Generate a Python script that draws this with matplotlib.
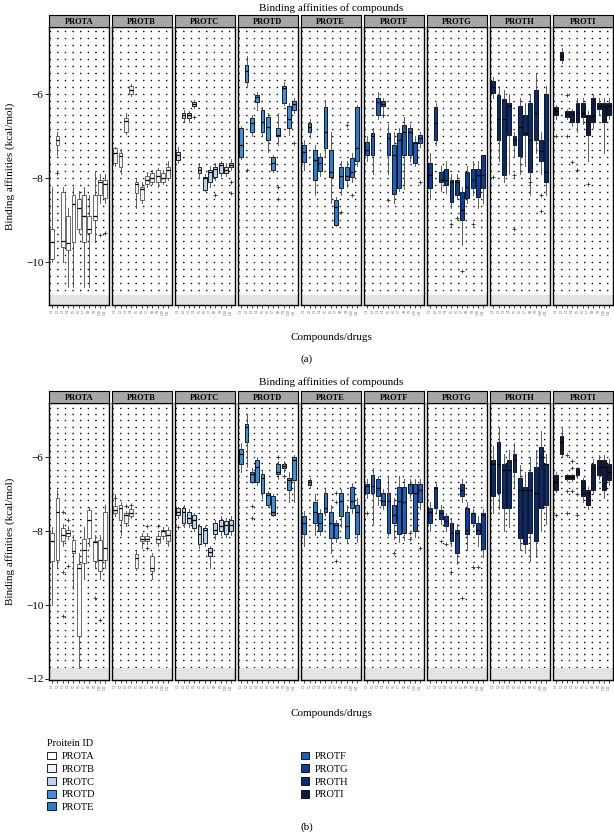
import numpy as np
import matplotlib
matplotlib.use('Agg')
import matplotlib.pyplot as plt
from matplotlib.patches import Patch

plt.rcParams['font.family'] = ['Liberation Serif', 'DejaVu Serif']

W, H = 614, 832

proteins = ['PROTA', 'PROTB', 'PROTC', 'PROTD', 'PROTE', 'PROTF', 'PROTG', 'PROTH', 'PROTI']
colors = ['#ffffff', '#eef3fa', '#b8d3ee', '#3d8fe0', '#2b7bd3', '#1d5fbf', '#0b3d9c', '#0a2a70', '#0b1c45']
# compound names are not legible in the reference
compounds = ['C1', 'C2', 'C3', 'C4', 'C5', 'C6', 'C7', 'C8', 'C9', 'C10', 'C11']

# ---- panel (a) ----
a_med = [
    [-9.52, -7.10, -9.50, -9.55, -8.62, -8.70, -8.90, -9.20, -8.90, -8.10, -8.14],
    [-7.40, -7.48, -6.65, -5.90, -8.15, -8.25, -8.05, -8.00, -7.95, -8.00, -7.80],
    [-7.45, -6.50, -6.50, -6.24, -7.80, -8.00, -7.85, -7.78, -7.68, -7.80, -7.68],
    [-7.21, -5.45, -6.69, -6.06, -6.67, -6.79, -7.65, -6.98, -5.86, -6.60, -6.24],
    [-7.38, -6.77, -7.57, -7.65, -6.90, -7.86, -8.69, -7.95, -7.95, -7.86, -7.29],
    [-7.33, -7.00, -6.18, -6.24, -7.05, -7.45, -7.10, -6.90, -6.90, -7.17, -7.05],
    [-7.93, -6.69, -8.05, -8.05, -8.10, -8.10, -8.76, -8.20, -8.05, -7.93, -7.93],
    [-5.83, -6.60, -6.60, -6.29, -7.10, -6.79, -6.93, -7.10, -6.45, -7.35, -7.86],
    [-6.40, -5.10, -6.48, -6.48, -6.45, -6.45, -6.52, -6.52, -6.29, -6.29, -6.29],
]
a_q1 = [
    [-9.93, -7.20, -9.63, -9.70, -9.52, -9.20, -9.52, -9.30, -9.00, -8.40, -8.48],
    [-7.64, -7.74, -6.90, -6.00, -8.35, -8.52, -8.15, -8.10, -8.10, -8.10, -8.00],
    [-7.57, -6.57, -6.57, -6.29, -7.88, -8.29, -8.10, -7.98, -7.88, -7.88, -7.73],
    [-7.50, -5.71, -6.90, -6.19, -6.90, -7.10, -7.81, -7.00, -6.20, -6.81, -6.38],
    [-7.62, -6.90, -8.05, -7.83, -7.29, -7.98, -9.12, -8.24, -8.05, -7.98, -7.60],
    [-7.45, -7.45, -6.50, -6.29, -7.45, -8.37, -8.24, -7.45, -7.45, -7.64, -7.17],
    [-8.24, -7.10, -8.10, -8.17, -8.57, -8.40, -9.00, -8.48, -8.24, -8.44, -8.24],
    [-5.98, -7.10, -7.93, -6.98, -7.20, -7.48, -6.98, -7.86, -7.10, -7.60, -8.10],
    [-6.50, -5.19, -6.55, -6.67, -6.67, -6.55, -6.98, -6.67, -6.36, -6.67, -6.50],
]
a_q3 = [
    [-9.22, -7.00, -8.33, -8.90, -8.40, -8.50, -8.40, -8.90, -8.40, -8.05, -8.05],
    [-7.29, -7.40, -6.57, -5.80, -8.10, -8.21, -7.95, -7.88, -7.81, -7.88, -7.73],
    [-7.38, -6.45, -6.45, -6.19, -7.73, -7.98, -7.81, -7.73, -7.65, -7.73, -7.64],
    [-6.81, -5.31, -6.57, -6.02, -6.38, -6.55, -7.50, -6.81, -5.80, -6.29, -6.17],
    [-7.21, -6.69, -7.33, -7.50, -6.31, -7.33, -8.52, -7.73, -7.73, -7.53, -6.31],
    [-7.13, -6.93, -6.10, -6.17, -6.93, -7.21, -6.93, -6.74, -6.81, -7.13, -6.98],
    [-7.64, -6.31, -7.86, -7.77, -8.05, -8.05, -8.33, -7.86, -7.77, -7.77, -7.45],
    [-5.69, -6.02, -6.12, -6.20, -7.00, -6.29, -6.50, -6.20, -5.90, -7.10, -6.00],
    [-6.31, -5.00, -6.40, -6.40, -6.20, -6.20, -6.50, -6.10, -6.20, -6.20, -6.20],
]
a_lo = [
    [-10.0, -7.45, -10.0, -10.6, -10.6, -9.30, -10.6, -10.6, -9.52, -8.60, -8.60],
    [-7.70, -7.90, -6.95, -6.05, -8.70, -8.60, -8.20, -8.15, -8.20, -8.15, -8.05],
    [-7.64, -6.67, -6.67, -6.32, -8.00, -8.30, -8.20, -8.05, -7.95, -7.95, -7.80],
    [-7.55, -5.80, -7.00, -6.38, -7.00, -7.38, -7.85, -7.20, -6.25, -6.98, -6.45],
    [-7.80, -7.05, -8.40, -7.95, -7.50, -8.60, -9.15, -8.40, -8.20, -8.10, -7.70],
    [-7.60, -7.90, -6.60, -6.55, -7.90, -8.60, -8.30, -8.25, -7.60, -7.70, -7.25],
    [-8.50, -7.20, -8.30, -8.35, -8.70, -8.50, -9.60, -8.60, -8.40, -8.70, -8.60],
    [-6.10, -7.60, -8.10, -7.90, -7.50, -7.90, -7.70, -8.40, -7.40, -7.90, -8.40],
    [-6.60, -5.25, -6.60, -6.75, -6.90, -6.70, -7.60, -6.80, -6.50, -7.40, -6.60],
]
a_hi = [
    [-8.20, -6.90, -8.20, -8.70, -8.20, -8.30, -8.20, -8.40, -7.85, -7.90, -7.90],
    [-7.25, -7.30, -6.45, -5.75, -8.00, -8.10, -7.85, -7.80, -7.75, -7.80, -7.60],
    [-7.25, -6.38, -6.40, -6.15, -7.65, -7.90, -7.70, -7.65, -7.60, -7.65, -7.55],
    [-6.75, -5.10, -6.50, -5.95, -6.30, -6.45, -7.45, -6.45, -5.70, -6.20, -6.10],
    [-7.10, -6.60, -7.20, -7.40, -6.14, -6.90, -8.45, -7.60, -7.60, -7.40, -6.25],
    [-7.00, -6.80, -5.95, -6.10, -6.70, -6.90, -6.80, -6.55, -6.70, -7.00, -6.90],
    [-7.40, -6.20, -7.70, -7.60, -7.90, -7.90, -8.20, -7.70, -7.60, -7.60, -7.45],
    [-5.60, -5.80, -5.90, -6.00, -6.90, -6.10, -6.20, -6.00, -5.50, -6.90, -5.80],
    [-6.25, -4.90, -6.35, -6.35, -6.10, -6.10, -6.40, -6.00, -6.10, -6.10, -6.10],
]
# outliers: (compound number, value)
a_out = [
    [(2, -7.88), (10, -9.35), (11, -9.30)],
    [],
    [(4, -6.55), (8, -8.40), (11, -8.36), (11, -8.09)],
    [(2, -7.81), (8, -8.50), (8, -8.20), (11, -7.17)],
    [(9, -6.74), (8, -8.80), (10, -8.40)],
    [(4, -6.50), (5, -8.52), (11, -8.10)],
    [(5, -9.10), (6, -8.96), (7, -10.2), (9, -9.10)],
    [(1, -7.98), (5, -9.20), (5, -7.93), (8, -8.10), (10, -8.40), (10, -8.77)],
    [(1, -7.00), (3, -6.02), (3, -7.00), (4, -7.62), (5, -7.80), (7, -8.15)],
]

# ---- panel (b) ----
b_med = [
    [-8.27, -7.47, -8.10, -8.05, -8.54, -9.00, -8.50, -7.69, -8.30, -8.77, -8.45],
    [-7.42, -7.38, -7.55, -7.50, -8.72, -8.20, -8.20, -9.00, -8.22, -8.00, -8.10],
    [-7.47, -7.47, -7.65, -7.69, -8.09, -7.96, -8.56, -7.96, -7.87, -7.82, -7.82],
    [-5.90, -5.19, -6.44, -6.26, -6.57, -7.01, -7.47, -6.40, -6.24, -6.62, -6.08],
    [-7.78, -6.66, -7.49, -7.78, -7.38, -7.78, -7.82, -7.17, -7.87, -7.17, -7.49],
    [-6.78, -6.78, -6.84, -7.17, -7.17, -7.56, -7.17, -7.22, -6.71, -6.97, -6.88],
    [-7.47, -6.84, -7.51, -7.73, -8.05, -8.05, -6.88, -7.96, -7.51, -7.96, -7.56],
    [-6.17, -6.17, -6.35, -6.35, -6.08, -6.88, -6.88, -6.88, -6.97, -5.99, -6.17],
    [-6.66, -5.59, -6.53, -6.53, -6.39, -6.84, -6.97, -6.30, -6.26, -6.26, -6.39],
]
b_q1 = [
    [-8.80, -8.77, -8.27, -8.13, -8.59, -10.85, -8.85, -8.18, -8.80, -9.08, -8.77],
    [-7.51, -7.69, -7.78, -7.60, -8.99, -8.27, -8.27, -9.08, -8.32, -8.14, -8.27],
    [-7.56, -7.78, -7.78, -7.91, -8.36, -8.31, -8.67, -8.09, -8.00, -8.09, -8.00],
    [-6.17, -5.59, -6.66, -6.66, -6.97, -7.29, -7.55, -6.44, -6.30, -6.88, -6.62],
    [-8.09, -6.75, -7.78, -8.00, -7.49, -8.18, -8.18, -7.60, -8.18, -7.38, -8.09],
    [-6.97, -6.97, -7.06, -7.29, -8.05, -7.78, -8.09, -8.05, -6.97, -8.00, -7.20],
    [-7.78, -7.38, -7.67, -7.87, -8.27, -8.58, -7.06, -8.09, -7.78, -8.09, -8.49],
    [-7.06, -6.97, -7.38, -7.38, -6.39, -8.18, -8.36, -8.05, -8.27, -7.38, -7.29],
    [-6.88, -5.90, -6.60, -6.60, -6.48, -7.06, -7.29, -6.88, -6.48, -6.88, -6.62],
]
b_q3 = [
    [-8.05, -7.10, -7.91, -7.96, -8.23, -8.90, -8.20, -7.42, -8.27, -8.23, -7.47],
    [-7.33, -7.29, -7.51, -7.40, -8.63, -8.14, -8.14, -8.68, -8.14, -7.96, -7.96],
    [-7.38, -7.38, -7.47, -7.56, -7.87, -7.91, -8.45, -7.78, -7.69, -7.73, -7.69],
    [-5.77, -5.10, -6.39, -6.08, -6.44, -6.97, -7.06, -6.17, -6.17, -6.57, -6.00],
    [-7.60, -6.62, -7.20, -7.51, -6.97, -7.49, -7.78, -6.97, -7.49, -6.80, -7.29],
    [-6.71, -6.48, -6.60, -6.97, -6.97, -7.29, -6.80, -6.80, -6.71, -6.71, -6.71],
    [-7.38, -6.80, -7.42, -7.60, -7.78, -7.96, -6.71, -7.38, -7.51, -7.78, -7.51],
    [-6.08, -5.59, -6.17, -6.08, -5.90, -6.57, -6.80, -6.39, -6.26, -5.72, -6.17],
    [-6.48, -5.41, -6.48, -6.48, -6.30, -6.62, -6.88, -6.17, -6.08, -6.08, -6.17],
]
b_lo = [
    [-10.0, -9.00, -8.40, -8.20, -9.57, -11.7, -9.30, -8.40, -9.00, -9.30, -9.00],
    [-7.60, -8.10, -7.85, -7.65, -9.05, -8.45, -8.35, -9.30, -8.40, -8.20, -8.40],
    [-7.65, -7.90, -7.90, -8.00, -8.45, -8.40, -9.00, -8.20, -8.10, -8.15, -8.10],
    [-6.40, -6.26, -6.70, -6.75, -7.10, -7.35, -7.60, -6.60, -6.40, -7.20, -7.20],
    [-8.40, -6.80, -8.10, -8.10, -7.60, -8.60, -8.30, -7.90, -8.30, -7.50, -8.30],
    [-7.10, -7.80, -7.30, -7.40, -8.10, -8.20, -8.30, -8.25, -7.10, -8.15, -7.40],
    [-8.00, -7.50, -7.80, -8.00, -8.40, -8.90, -7.20, -8.50, -7.90, -8.40, -8.70],
    [-7.50, -7.40, -8.00, -7.90, -6.80, -8.50, -8.60, -8.80, -8.70, -8.00, -7.80],
    [-6.95, -6.00, -6.65, -6.65, -6.55, -7.20, -7.40, -7.00, -6.60, -7.10, -6.75],
]
b_hi = [
    [-7.90, -6.88, -7.80, -7.85, -8.10, -8.60, -7.90, -7.35, -8.10, -8.10, -7.30],
    [-7.00, -7.20, -7.45, -7.35, -8.55, -8.05, -8.05, -8.60, -8.05, -7.90, -7.90],
    [-7.35, -7.30, -7.40, -7.50, -7.80, -7.85, -8.40, -7.70, -7.60, -7.65, -7.60],
    [-5.60, -4.83, -6.30, -6.00, -6.35, -6.90, -7.00, -6.10, -6.10, -6.40, -5.95],
    [-7.45, -6.55, -7.00, -7.40, -6.85, -7.30, -7.70, -6.85, -7.30, -6.70, -7.10],
    [-6.60, -6.30, -6.50, -6.85, -6.50, -7.10, -6.50, -6.60, -6.60, -6.60, -6.60],
    [-7.20, -6.70, -7.30, -7.50, -7.65, -7.80, -6.60, -7.20, -7.40, -7.60, -7.40],
    [-5.70, -5.20, -5.90, -5.80, -5.60, -6.20, -6.40, -6.00, -5.80, -5.28, -5.90],
    [-6.40, -5.20, -6.45, -6.45, -6.25, -6.55, -6.80, -6.05, -5.95, -5.95, -6.05],
]
b_out = [
    [(3, -7.47), (3, -9.10), (3, -10.3), (4, -7.70), (4, -8.94), (9, -9.80), (10, -10.4)],
    [(1, -7.10), (3, -7.33), (4, -7.29), (7, -7.87), (7, -8.45), (9, -7.87)],
    [(1, -7.90)],
    [(3, -7.33), (3, -7.64), (8, -6.00), (9, -6.50)],
    [(7, -6.97), (7, -7.20), (7, -8.80)],
    [(1, -7.50), (6, -8.60), (9, -8.05), (9, -8.20), (11, -8.45)],
    [(3, -8.27), (4, -8.36), (5, -9.10), (7, -9.80), (9, -8.96), (10, -8.96)],
    [],
    [(1, -7.55), (3, -5.95), (3, -6.90), (3, -7.50), (4, -6.10), (4, -6.30), (4, -6.90), (5, -7.00), (5, -7.55)],
]


def draw_row(fig, med, q1, q3, lo, hi, outl, top, bot, ylim, yticks, band):
    for i, prot in enumerate(proteins):
        left = (49 + i * 63.0) / W
        ax = fig.add_axes([left, 1 - bot / H, 59.5 / W, (bot - top) / H])
        stats = []
        for j in range(len(compounds)):
            stats.append(dict(med=med[i][j], q1=q1[i][j], q3=q3[i][j],
                              whislo=lo[i][j], whishi=hi[i][j],
                              fliers=[v for (c, v) in outl[i] if c == j + 1]))
        edge = '#555555' if i < 2 else 'black'
        ax.bxp(stats, positions=range(1, len(compounds) + 1), widths=0.72,
               patch_artist=True, showcaps=False,
               boxprops=dict(facecolor=colors[i], edgecolor=edge, linewidth=0.6),
               medianprops=dict(color='black', linewidth=0.9),
               whiskerprops=dict(color='#444444', linewidth=0.6),
               flierprops=dict(marker='+', markersize=3.5, markeredgecolor='#333333',
                               markeredgewidth=0.6))
        # dotted background grid
        for v in np.arange(-12.5, -4.0, 1 / 6):
            ax.axhline(v, ls=(0, (1, 4.5)), lw=1.0, color='black', zorder=0)
        ax.axhspan(ylim[0], ylim[0] + band, color='#e4e4e4', zorder=0.5, lw=0)
        ax.set_xlim(0.4, len(compounds) + 0.6)
        ax.set_ylim(*ylim)
        ax.set_xticks(range(1, len(compounds) + 1))
        ax.set_xticklabels(compounds, rotation=90, fontsize=2.5, color='#555555')
        ax.tick_params(axis='x', length=2, width=0.5, pad=1)
        ax.set_yticks(yticks)
        if i == 0:
            ax.set_yticklabels(['\u2212%d' % abs(t) for t in yticks], fontsize=8)
            ax.tick_params(axis='y', length=3, width=0.6, pad=1)
        else:
            ax.tick_params(axis='y', left=False, labelleft=False)
        for s in ax.spines.values():
            s.set_linewidth(1.0)
            s.set_color('black')
        sx = fig.add_axes([left, 1 - top / H, 59.5 / W, 12 / H])
        sx.set_facecolor('#a6a6a6')
        sx.set_xticks([])
        sx.set_yticks([])
        for s in sx.spines.values():
            s.set_linewidth(0.8)
        sx.text(0.5, 0.45, prot, ha='center', va='center', fontsize=6,
                fontweight='bold', transform=sx.transAxes)


fig = plt.figure(figsize=(W / 100, H / 100), dpi=100)

# (a)
draw_row(fig, a_med, a_q1, a_q3, a_lo, a_hi, a_out, 27, 305, (-11.02, -4.4), [-10, -8, -6], 0.24)
fig.text(331 / W, 1 - 8 / H, 'Binding affinities of compounds', ha='center', va='center', fontsize=8)
fig.text(331 / W, 1 - 338 / H, 'Compounds/drugs', ha='center', va='center', fontsize=8)
fig.text(10 / W, 1 - 166 / H, 'Binding affinities (kcal/mol)', rotation=90, ha='center', va='center', fontsize=8)
fig.text(307 / W, 1 - 359 / H, '(a)', ha='center', va='center', fontsize=8)

# (b)
draw_row(fig, b_med, b_q1, b_q3, b_lo, b_hi, b_out, 403, 680, (-12.03, -4.53), [-12, -10, -8, -6], 0.33)
fig.text(331 / W, 1 - 382 / H, 'Binding affinities of compounds', ha='center', va='center', fontsize=8)
fig.text(331 / W, 1 - 713 / H, 'Compounds/drugs', ha='center', va='center', fontsize=8)
fig.text(10 / W, 1 - 541 / H, 'Binding affinities (kcal/mol)', rotation=90, ha='center', va='center', fontsize=8)
fig.text(307 / W, 1 - 827 / H, '(b)', ha='center', va='center', fontsize=8)

handles = [Patch(facecolor=c, edgecolor='black', linewidth=0.6) for c in colors]
leg = fig.legend(handles, proteins, loc='upper left', bbox_to_anchor=(38 / W, 1 - 730 / H),
                 ncol=2, frameon=False, fontsize=7.5, title='Proitein ID', title_fontsize=7.5,
                 handlelength=0.8, handleheight=0.8, handletextpad=0.6, labelspacing=0.3,
                 columnspacing=19.7, alignment='left')

fig.savefig('out.png', dpi=100)
